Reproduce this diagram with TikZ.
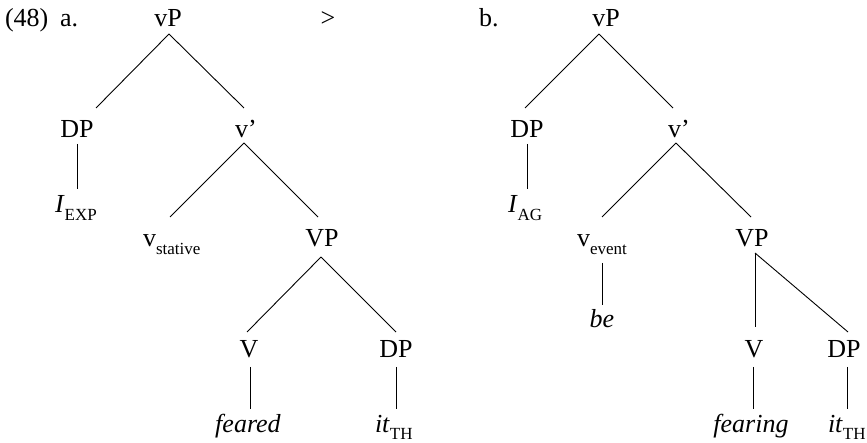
\documentclass[tikz,border=0pt]{standalone}
\usepackage{fontspec}
\setmainfont{Liberation Serif}
\usetikzlibrary{calc}
\newcommand\lsub[1]{\raisebox{-7.5bp}{\fontsize{17bp}{17bp}\selectfont #1}}
\begin{document}
\begin{tikzpicture}[x=1bp,y=-1bp,
  lbl/.style={inner sep=0pt,outer sep=0pt,font=\fontsize{26bp}{30bp}\selectfont},
  edge/.style={line width=0.9bp}]
\useasboundingbox (0,0) rectangle (867,443);
% ---------- tree a ----------
\node[lbl,anchor=base west] (ex) at (5,27) {(48)};
\node[lbl,anchor=base west] (la) at (60,27) {a.};
\node[lbl,anchor=base] (vPa) at (168,27) {vP};
\node[lbl,anchor=base] (gt) at (328,27) {>};
\node[lbl,anchor=base] (DPa) at (77,138) {DP};
\node[lbl,anchor=base west] (vba) at (235,138) {v’};
\node[lbl,anchor=base west] (Ia) at (55,213) {\textit{I}\lsub{EXP}};
\node[lbl,anchor=base west] (vsa) at (143,247) {v\lsub{stative}};
\node[lbl,anchor=base] (VPa) at (322,247) {VP};
\node[lbl,anchor=base] (Va) at (249,358) {V};
\node[lbl,anchor=base] (DPaa) at (396,358) {DP};
\node[lbl,anchor=base] (fda) at (248,432) {\textit{feared}};
\node[lbl,anchor=base west] (ita) at (375,432) {\textit{it}\lsub{TH}};
\draw[edge] ($(vPa.base)+(1,7)$) -- ($(DPa.base)+(19,-30)$);
\draw[edge] ($(vPa.base)+(1,7)$) -- ($(vba.base west)+(9,-30)$);
\draw[edge] ($(DPa.base)+(0,6)$) -- ($(Ia.base west)+(22,-24)$);
\draw[edge] ($(vba.base west)+(9,5)$) -- ($(vsa.base west)+(27,-30)$);
\draw[edge] ($(vba.base west)+(9,5)$) -- ($(VPa.base)+(-4,-30)$);
\draw[edge] ($(VPa.base)+(-1,10)$) -- ($(Va.base)+(-2,-26)$);
\draw[edge] ($(VPa.base)+(-1,10)$) -- ($(DPaa.base)+(0,-26)$);
\draw[edge] ($(Va.base)+(1,9)$) -- ($(fda.base)+(2,-23)$);
\draw[edge] ($(DPaa.base)+(0,9)$) -- ($(ita.base west)+(21,-23)$);
% ---------- tree b ----------
\node[lbl,anchor=base west] (lb) at (479,27) {b.};
\node[lbl,anchor=base] (vPb) at (606,27) {vP};
\node[lbl,anchor=base] (DPb) at (527,138) {DP};
\node[lbl,anchor=base west] (vbb) at (668,138) {v’};
\node[lbl,anchor=base west] (Ib) at (508,213) {\textit{I}\lsub{AG}};
\node[lbl,anchor=base west] (veb) at (577,247) {v\lsub{event}};
\node[lbl,anchor=base] (VPb) at (752,247) {VP};
\node[lbl,anchor=base] (beb) at (602,328) {\textit{be}};
\node[lbl,anchor=base] (Vb) at (754,358) {V};
\node[lbl,anchor=base] (DPbb) at (844,358) {DP};
\node[lbl,anchor=base] (fgb) at (751,432) {\textit{fearing}};
\node[lbl,anchor=base west] (itb) at (828,432) {\textit{it}\lsub{TH}};
\draw[edge] ($(vPb.base)+(-7,7)$) -- ($(DPb.base)+(-2,-30)$);
\draw[edge] ($(vPb.base)+(-7,7)$) -- ($(vbb.base west)+(5,-30)$);
\draw[edge] ($(DPb.base)+(0,6)$) -- ($(Ib.base west)+(19,-24)$);
\draw[edge] ($(vbb.base west)+(8,5)$) -- ($(veb.base west)+(25,-30)$);
\draw[edge] ($(vbb.base west)+(8,5)$) -- ($(VPb.base)+(-1,-30)$);
\draw[edge] ($(veb.base west)+(25,16)$) -- ($(beb.base)+(0,-23)$);
\draw[edge] ($(VPb.base)+(3,6)$) -- ($(VPb.base)+(3,80)$);
\draw[edge] ($(VPb.base)+(3,6)$) -- ($(DPbb.base)+(4,-26)$);
\draw[edge] ($(Vb.base)+(-1,9)$) -- ($(fgb.base)+(2,-23)$);
\draw[edge] ($(DPbb.base)+(3,9)$) -- ($(itb.base west)+(19,-23)$);
\end{tikzpicture}
\end{document}
